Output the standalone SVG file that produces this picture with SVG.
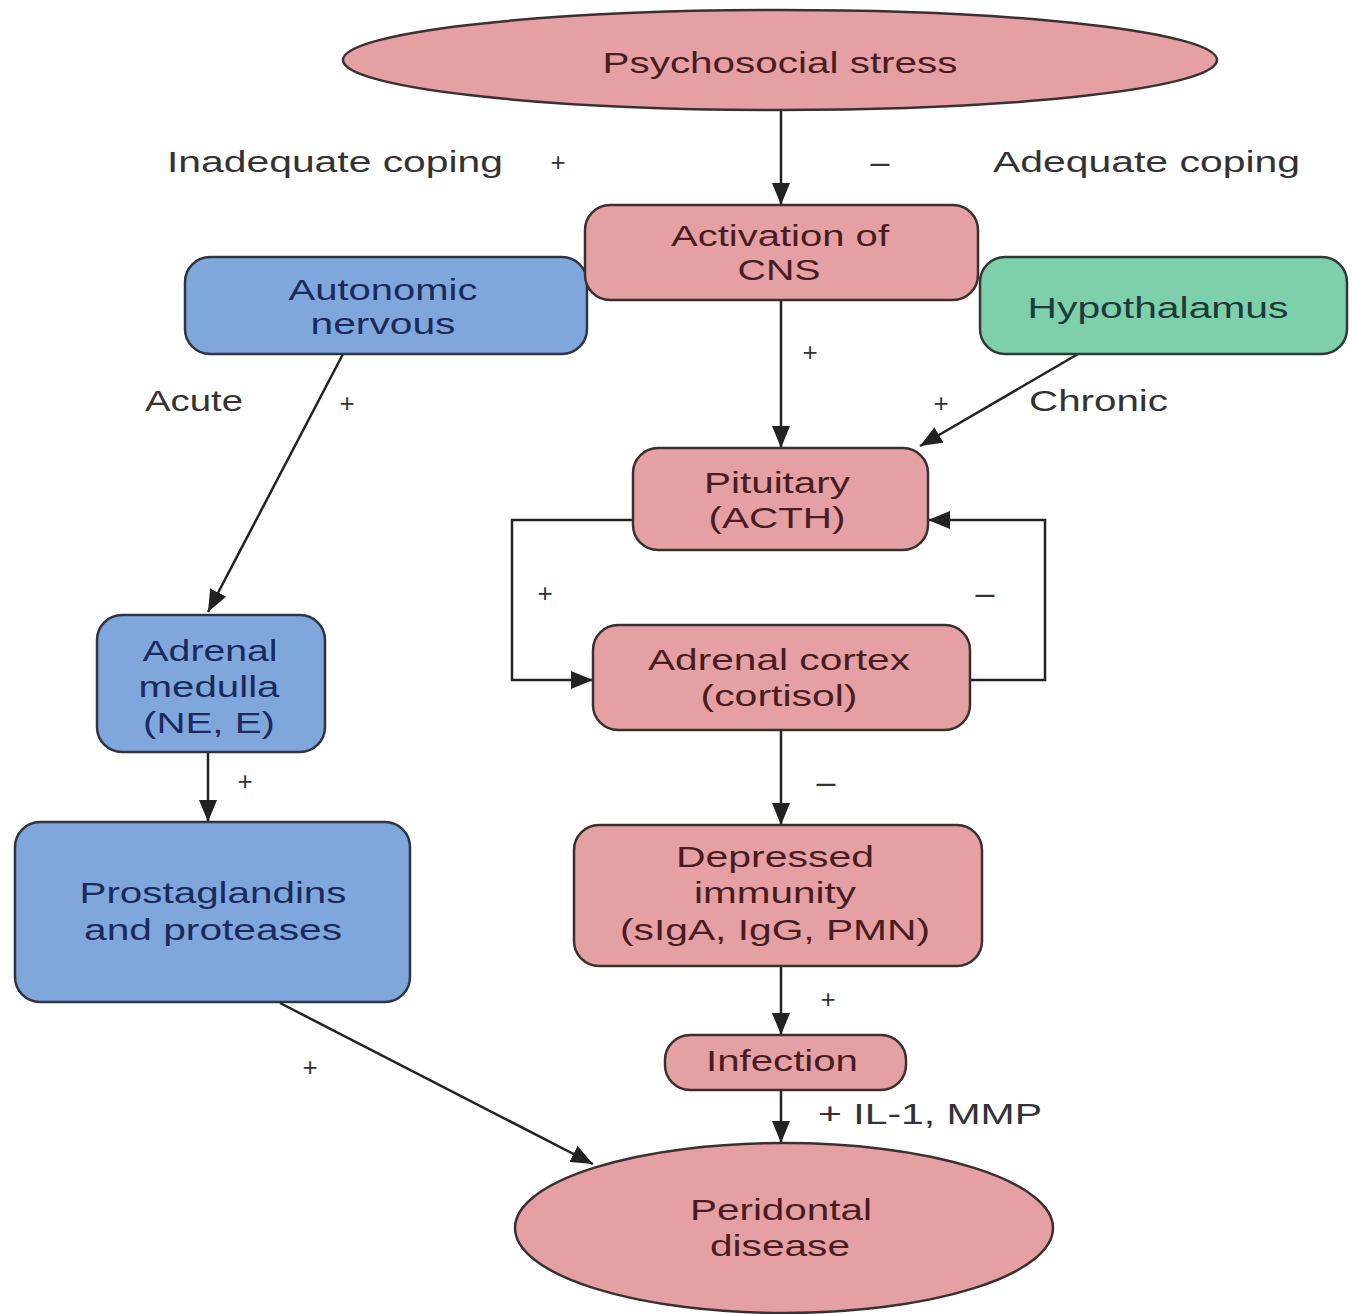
<svg xmlns="http://www.w3.org/2000/svg" width="1352" height="1314" viewBox="0 0 1352 1314">
<style>
.pink{fill:#e4a0a3;stroke:#3b3030;stroke-width:2.5}
.blue{fill:#7fa7dc;stroke:#2e3440;stroke-width:2.5}
.green{fill:#7ecfac;stroke:#2f3a35;stroke-width:2.5}
text{font-family:"Liberation Sans",Arial,sans-serif;font-size:30px;text-anchor:middle}
.tp{fill:#4a1c22}
.tb{fill:#1b2a5c}
.tg{fill:#1f3a3a}
.lbl{fill:#333;text-anchor:start}
.sign{fill:#333;font-size:26px}
.minus{fill:#333;font-size:34px}
.conn{fill:none;stroke:#222;stroke-width:2.5}
</style>
<defs>
<marker id="arr" viewBox="0 0 22 18" refX="22" refY="9" markerWidth="22" markerHeight="18" markerUnits="userSpaceOnUse" orient="auto">
<path d="M0,0 L22,9 L0,18 Z" fill="#222"/>
</marker>
</defs>
<rect width="1352" height="1314" fill="#ffffff"/>

<g id="connectors">
<line class="conn" x1="781" y1="110" x2="781" y2="205" marker-end="url(#arr)"/>
<line class="conn" x1="781" y1="300" x2="781" y2="448" marker-end="url(#arr)"/>
<line class="conn" x1="1078" y1="354" x2="920" y2="446" marker-end="url(#arr)"/>
<line class="conn" x1="343" y1="354" x2="208" y2="612" marker-end="url(#arr)"/>
<polyline class="conn" points="633,520 512,520 512,680 593,680" marker-end="url(#arr)"/>
<polyline class="conn" points="970,680 1045,680 1045,520 928,520" marker-end="url(#arr)"/>
<line class="conn" x1="208" y1="752" x2="208" y2="822" marker-end="url(#arr)"/>
<line class="conn" x1="781" y1="730" x2="781" y2="825" marker-end="url(#arr)"/>
<line class="conn" x1="781" y1="966" x2="781" y2="1035" marker-end="url(#arr)"/>
<line class="conn" x1="781" y1="1090" x2="781" y2="1143" marker-end="url(#arr)"/>
<line class="conn" x1="280" y1="1003" x2="593" y2="1164" marker-end="url(#arr)"/>
</g>

<g id="labels">
<text class="lbl" x="167" y="172" textLength="336" lengthAdjust="spacingAndGlyphs">Inadequate coping</text>
<text class="sign" x="558" y="171">+</text>
<text class="minus" x="880" y="173">–</text>
<text class="lbl" x="993" y="172" textLength="307" lengthAdjust="spacingAndGlyphs">Adequate coping</text>
<text class="sign" x="810" y="361">+</text>
<text class="lbl" x="145" y="411" textLength="98" lengthAdjust="spacingAndGlyphs">Acute</text>
<text class="sign" x="347" y="412">+</text>
<text class="sign" x="941" y="412">+</text>
<text class="lbl" x="1029" y="411" textLength="139" lengthAdjust="spacingAndGlyphs">Chronic</text>
<text class="sign" x="545" y="602">+</text>
<text class="minus" x="985" y="604">–</text>
<text class="sign" x="245" y="790">+</text>
<text class="minus" x="826" y="793">–</text>
<text class="sign" x="828" y="1008">+</text>
<text class="sign" x="310" y="1076">+</text>
<text class="lbl" x="818" y="1124" textLength="224" lengthAdjust="spacingAndGlyphs">+ IL-1, MMP</text>
</g>

<g id="node-stress">
<ellipse class="pink" cx="780" cy="60" rx="437" ry="50"/>
<text class="tp" x="780" y="73" textLength="355" lengthAdjust="spacingAndGlyphs">Psychosocial stress</text>
</g>

<g id="node-autonomic">
<rect class="blue" x="185" y="257" width="402" height="97" rx="25"/>
<text class="tb" x="383" y="300" textLength="189" lengthAdjust="spacingAndGlyphs">Autonomic</text>
<text class="tb" x="383" y="334" textLength="145" lengthAdjust="spacingAndGlyphs">nervous</text>
</g>

<g id="node-hypothalamus">
<rect class="green" x="980" y="257" width="367" height="97" rx="25"/>
<text class="tg" x="1158" y="318" textLength="261" lengthAdjust="spacingAndGlyphs">Hypothalamus</text>
</g>

<g id="node-cns">
<rect class="pink" x="585" y="205" width="393" height="95" rx="25"/>
<text class="tp" x="780" y="246" textLength="218" lengthAdjust="spacingAndGlyphs">Activation of</text>
<text class="tp" x="779" y="280" textLength="83" lengthAdjust="spacingAndGlyphs">CNS</text>
</g>

<g id="node-pituitary">
<rect class="pink" x="633" y="448" width="295" height="102" rx="25"/>
<text class="tp" x="777" y="493" textLength="146" lengthAdjust="spacingAndGlyphs">Pituitary</text>
<text class="tp" x="777" y="528" textLength="137" lengthAdjust="spacingAndGlyphs">(ACTH)</text>
</g>

<g id="node-cortex">
<rect class="pink" x="593" y="625" width="377" height="105" rx="25"/>
<text class="tp" x="779" y="670" textLength="262" lengthAdjust="spacingAndGlyphs">Adrenal cortex</text>
<text class="tp" x="779" y="706" textLength="157" lengthAdjust="spacingAndGlyphs">(cortisol)</text>
</g>

<g id="node-medulla">
<rect class="blue" x="97" y="615" width="228" height="137" rx="25"/>
<text class="tb" x="210" y="661" textLength="135" lengthAdjust="spacingAndGlyphs">Adrenal</text>
<text class="tb" x="209" y="697" textLength="141" lengthAdjust="spacingAndGlyphs">medulla</text>
<text class="tb" x="209" y="733" textLength="132" lengthAdjust="spacingAndGlyphs">(NE, E)</text>
</g>

<g id="node-prostaglandins">
<rect class="blue" x="15" y="822" width="395" height="180" rx="25"/>
<text class="tb" x="213" y="903" textLength="267" lengthAdjust="spacingAndGlyphs">Prostaglandins</text>
<text class="tb" x="213" y="940" textLength="258" lengthAdjust="spacingAndGlyphs">and proteases</text>
</g>

<g id="node-immunity">
<rect class="pink" x="574" y="825" width="408" height="141" rx="25"/>
<text class="tp" x="775" y="867" textLength="198" lengthAdjust="spacingAndGlyphs">Depressed</text>
<text class="tp" x="775" y="903" textLength="162" lengthAdjust="spacingAndGlyphs">immunity</text>
<text class="tp" x="775" y="940" textLength="310" lengthAdjust="spacingAndGlyphs">(sIgA, IgG, PMN)</text>
</g>

<g id="node-infection">
<rect class="pink" x="665" y="1035" width="241" height="55" rx="25"/>
<text class="tp" x="782" y="1071" textLength="152" lengthAdjust="spacingAndGlyphs">Infection</text>
</g>

<g id="node-peridontal">
<ellipse class="pink" cx="784" cy="1228" rx="269" ry="85"/>
<text class="tp" x="781" y="1220" textLength="182" lengthAdjust="spacingAndGlyphs">Peridontal</text>
<text class="tp" x="780" y="1256" textLength="140" lengthAdjust="spacingAndGlyphs">disease</text>
</g>
</svg>
